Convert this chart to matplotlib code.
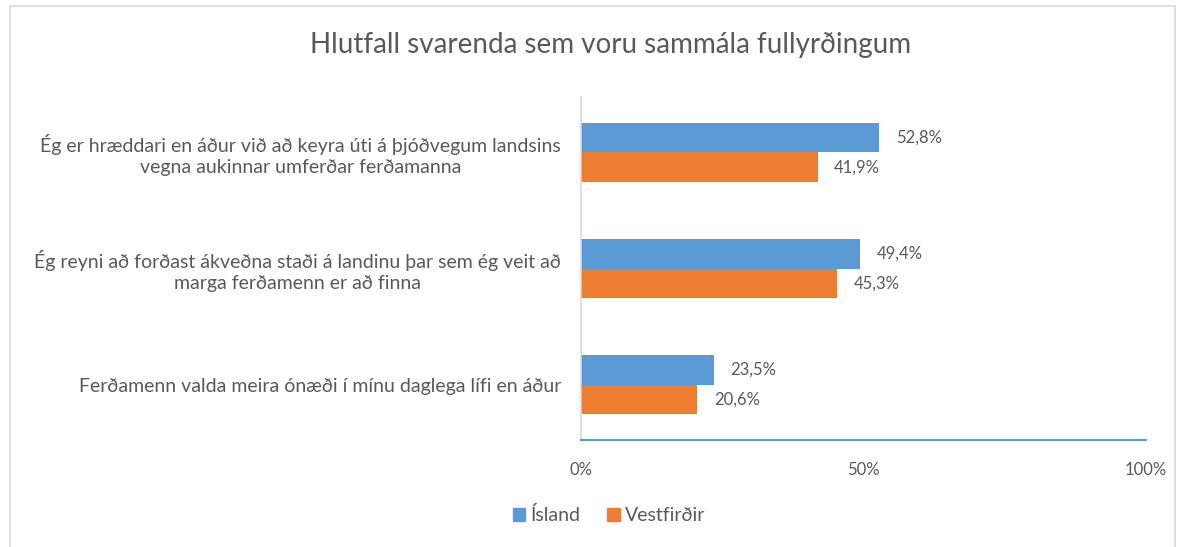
import matplotlib
matplotlib.use("Agg")
import matplotlib.pyplot as plt
import matplotlib.transforms as mtransforms
from matplotlib.patches import Rectangle, Patch
import numpy as np

plt.rcParams['font.family'] = ['Lato', 'DejaVu Sans']

# Data
statements = [
    "Ég er hræddari en áður við að keyra úti á þjóðvegum landsins\nvegna aukinnar umferðar ferðamanna",
    "Ég reyni að forðast ákveðna staði á landinu þar sem ég veit að\nmarga ferðamenn er að finna",
    "Ferðamenn valda meira ónæði í mínu daglega lífi en áður",
]
island = [52.8, 49.4, 23.5]
vestfirdir = [41.9, 45.3, 20.6]
series_names = ["Ísland", "Vestfirðir"]
xticks = [0, 50, 100]

blue = "#5b9bd5"
orange = "#ed7d31"
grey = "#595959"

fig = plt.figure(figsize=(11.8, 5.47), dpi=100)
ax = fig.add_axes([581 / 1180, 1 - 440 / 547, 565 / 1180, 343 / 547])

# chart border
fig.patches.append(Rectangle((10 / 1180, -0.01), 1165 / 1180, 1 - 6 / 547 + 0.01,
                             transform=fig.transFigure, fill=False,
                             edgecolor="#d9d9d9", linewidth=1.2))

y = np.arange(len(statements))
h = 0.258
b1 = ax.barh(y - h / 2, island, height=h, color=blue, label=series_names[0])
b2 = ax.barh(y + h / 2, vestfirdir, height=h, color=orange, label=series_names[1])

for bars, vals in ((b1, island), (b2, vestfirdir)):
    for bar, v in zip(bars, vals):
        ax.text(v + 2.9, bar.get_y() + bar.get_height() / 2,
                f"{v:.1f}%".replace(".", ","), va="center", ha="left",
                fontsize=12, color=grey)

ax.set_xlim(0, 100)
ax.set_ylim(1 + 1.478, 1 - 1.478)
ax.set_xticks(xticks)
ax.set_xticklabels([f"{t}%" for t in xticks], fontsize=12, color=grey)
ax.set_yticks([])
ax.tick_params(axis="x", length=0, pad=16)

# category labels right-aligned left of the axis, lines centred
trans = mtransforms.blended_transform_factory(ax.transAxes, ax.transData)
for yi, s in zip(y, statements):
    ax.text(-20 / 565, yi + 0.02, s, transform=trans, ha="right", va="center",
            multialignment="center", fontsize=14, color=grey, linespacing=1.3)

ax.spines["top"].set_visible(False)
ax.spines["right"].set_visible(False)
ax.spines["left"].set_color("#d9d9d9")
ax.spines["left"].set_linewidth(1.2)
ax.spines["bottom"].set_color(blue)
ax.spines["bottom"].set_linewidth(1.5)

fig.suptitle("Hlutfall svarenda sem voru sammála fullyrðingum", x=611 / 1180,
             y=1 - 45 / 547, va="center", fontsize=20, color=grey)

fig.legend(handles=[Patch(color=blue, label=series_names[0]),
                    Patch(color=orange, label=series_names[1])],
           loc="center", bbox_to_anchor=(609 / 1180, 1 - 515 / 547), ncol=2,
           frameon=False, fontsize=14, labelcolor=grey, handlelength=0.65,
           handleheight=0.65, handletextpad=0.25, columnspacing=1.4)

fig.savefig("out.png", dpi=100)
